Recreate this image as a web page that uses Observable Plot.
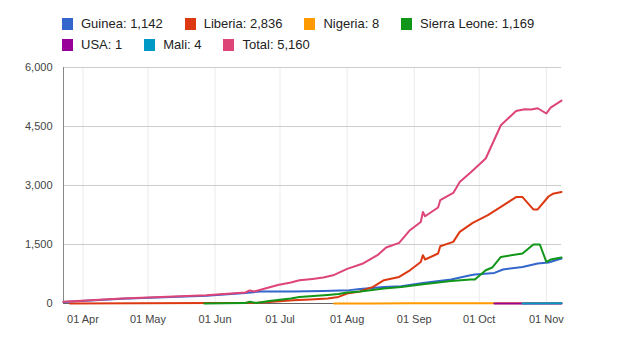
<!DOCTYPE html>
<html>
<head>
<meta charset="utf-8">
<script src="https://cdn.jsdelivr.net/npm/d3@7"></script>
<script src="https://cdn.jsdelivr.net/npm/@observablehq/plot@0.6"></script>
<style>
  html, body { margin: 0; padding: 0; background: #fff; }
  body { width: 624px; height: 351px; overflow: hidden; font-family: "Liberation Sans", Arial, sans-serif; }
  #legend { height: 56px; position: relative; }
  .row { position: absolute; left: 62px; display: flex; gap: 22px; align-items: center; font-size: 13px; color: #222; }
  .item { display: flex; align-items: center; white-space: nowrap; }
  .sw { width: 11px; height: 12px; margin-right: 8px; }
  #chart svg { display: block; }
</style>
</head>
<body>
<div id="legend"></div>
<div id="chart"></div>
<script>
// ---- data ----
const seriesNames = ["Guinea", "Liberia", "Nigeria", "Sierra Leone", "USA", "Mali", "Total"];
const seriesTotals = [1142, 2836, 8, 1169, 1, 4, 5160];
const seriesColors = ["#3366cc", "#dc3912", "#ff9900", "#109618", "#990099", "#0099c6", "#dd4477"];

const guinea = [["2014-03-23",40],["2014-04-19",120],["2014-05-28",200],["2014-06-15",270],["2014-06-22",305],["2014-07-07",305],["2014-07-21",320],["2014-08-02",340],["2014-08-07",371],["2014-08-18",422],["2014-08-26",440],["2014-09-05",524],["2014-09-18",610],["2014-09-27",719],["2014-09-29",737],["2014-10-08",778],["2014-10-12",864],["2014-10-21",930],["2014-10-28",1017],["2014-11-02",1042],["2014-11-08",1142]];
const liberia = [["2014-03-26",2],["2014-05-30",11],["2014-06-15",16],["2014-06-17",25],["2014-06-19",13],["2014-06-26",41],["2014-07-07",84],["2014-07-15",102],["2014-07-23",127],["2014-07-28",168],["2014-08-01",254],["2014-08-07",305],["2014-08-08",330],["2014-08-13",422],["2014-08-18",592],["2014-08-25",676],["2014-08-30",844],["2014-09-04",1055],["2014-09-05",1229],["2014-09-06",1118],["2014-09-12",1271],["2014-09-13",1457],["2014-09-19",1567],["2014-09-22",1821],["2014-09-28",2049],["2014-10-05",2246],["2014-10-11",2455],["2014-10-18",2705],["2014-10-21",2705],["2014-10-26",2391],["2014-10-28",2391],["2014-11-02",2720],["2014-11-04",2788],["2014-11-08",2836]];
const nigeria = [["2014-07-26",1],["2014-08-13",3],["2014-08-30",6],["2014-09-05",8],["2014-11-08",8]];
const sierraLeone = [["2014-05-27",1],["2014-06-15",10],["2014-06-17",45],["2014-06-20",12],["2014-06-26",66],["2014-07-06",127],["2014-07-10",168],["2014-07-23",219],["2014-07-28",244],["2014-08-01",280],["2014-08-07",305],["2014-08-18",381],["2014-08-26",419],["2014-09-05",488],["2014-09-18",572],["2014-09-27",610],["2014-09-29",610],["2014-10-04",846],["2014-10-07",915],["2014-10-11",1183],["2014-10-21",1271],["2014-10-26",1500],["2014-10-29",1500],["2014-11-01",1058],["2014-11-03",1118],["2014-11-08",1169]];
const usa = [["2014-10-08",1],["2014-11-08",1]];
const mali = [["2014-10-21",1],["2014-11-08",4]];
const total = [["2014-03-23",42],["2014-04-19",127],["2014-05-28",211],["2014-06-15",280],["2014-06-17",330],["2014-06-19",305],["2014-06-25",396],["2014-06-30",472],["2014-07-06",533],["2014-07-10",590],["2014-07-16",625],["2014-07-21",660],["2014-07-26",727],["2014-08-01",880],["2014-08-08",1010],["2014-08-15",1228],["2014-08-19",1424],["2014-08-25",1540],["2014-08-30",1863],["2014-09-04",2074],["2014-09-05",2328],["2014-09-06",2219],["2014-09-12",2440],["2014-09-13",2626],["2014-09-19",2811],["2014-09-22",3091],["2014-09-27",3330],["2014-10-04",3686],["2014-10-11",4532],["2014-10-18",4896],["2014-10-22",4939],["2014-10-25",4931],["2014-10-28",4964],["2014-11-01",4830],["2014-11-03",4982],["2014-11-08",5160]];

const xTicks = ["2014-04-01","2014-05-01","2014-06-01","2014-07-01","2014-08-01","2014-09-01","2014-10-01","2014-11-01"];
const yTicks = [0, 1500, 3000, 4500, 6000];
const xDomain = ["2014-03-23", "2014-11-08"];

// ---- legend ----
const fmt = d3.format(",");
const legend = document.getElementById("legend");
const rows = [[0,1,2,3],[4,5,6]];
const rowTops = [16, 37];
rows.forEach((idxs, r) => {
  const row = document.createElement("div");
  row.className = "row";
  row.style.top = rowTops[r] + "px";
  idxs.forEach(i => {
    const it = document.createElement("div");
    it.className = "item";
    const sw = document.createElement("span");
    sw.className = "sw";
    sw.style.background = seriesColors[i];
    const tx = document.createElement("span");
    tx.textContent = `${seriesNames[i]}: ${fmt(seriesTotals[i])}`;
    it.appendChild(sw); it.appendChild(tx);
    row.appendChild(it);
  });
  legend.appendChild(row);
});

// ---- chart ----
const parse = d3.utcParse("%Y-%m-%d");
const allSeries = [guinea, liberia, nigeria, sierraLeone, usa, mali, total];
const tables = allSeries.map(s => s.map(([d, v]) => ({date: parse(d), value: v})));
const tickDates = xTicks.map(parse);

const chart = Plot.plot({
  width: 624,
  height: 295,
  marginTop: 11,
  marginBottom: 48,
  marginLeft: 63,
  marginRight: 63,
  style: {fontFamily: "'Liberation Sans', Arial, sans-serif", fontSize: "11px", color: "#444", background: "#fff"},
  x: {type: "utc", domain: xDomain.map(parse), axis: null},
  y: {domain: [0, 6000], axis: null},
  marks: [
    Plot.ruleX(tickDates, {stroke: "#ebebeb", strokeWidth: 1}),
    Plot.ruleY(yTicks.filter(d => d > 0), {stroke: "#cccccc", strokeWidth: 1}),
    Plot.ruleX([parse(xDomain[0])], {stroke: "#888", strokeWidth: 1}),
    Plot.ruleY([0], {stroke: "#666", strokeWidth: 1}),
    ...tables.map((t, i) => Plot.lineY(t, {x: "date", y: "value", stroke: seriesColors[i], strokeWidth: 2})),
    Plot.axisX(tickDates, {tickSize: 0, tickPadding: 12, tickFormat: d3.utcFormat("%d %b"), fill: "#444", label: null}),
    Plot.axisY(yTicks, {tickSize: 0, tickPadding: 11, tickFormat: fmt, fill: "#444", label: null})
  ]
});
document.getElementById("chart").appendChild(chart);
</script>
</body>
</html>
